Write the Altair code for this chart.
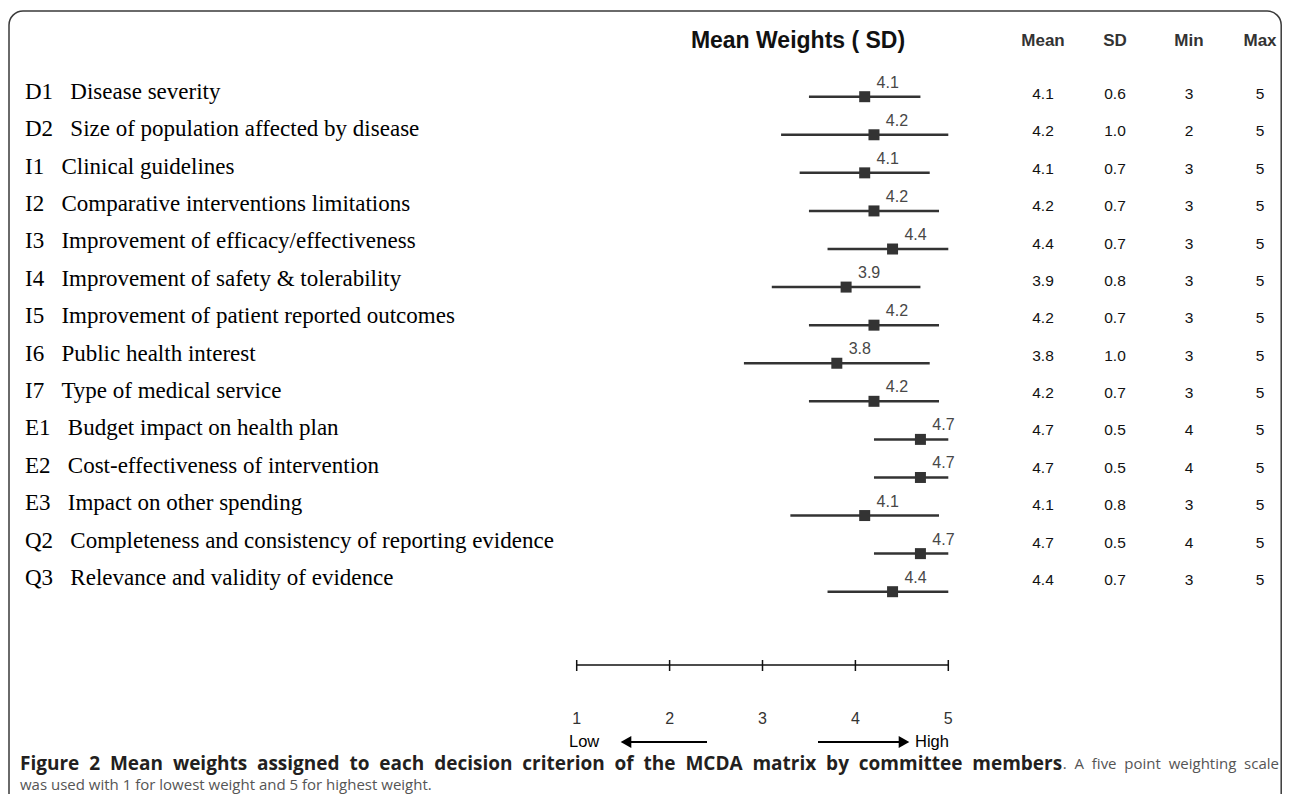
import altair as alt
import numpy as np
import pandas as pd

# ---------------- data ----------------
codes = ["D1", "D2", "I1", "I2", "I3", "I4", "I5", "I6", "I7", "E1", "E2", "E3", "Q2", "Q3"]
criteria = [
    "Disease severity",
    "Size of population affected by disease",
    "Clinical guidelines",
    "Comparative interventions limitations",
    "Improvement of efficacy/effectiveness",
    "Improvement of safety & tolerability",
    "Improvement of patient reported outcomes",
    "Public health interest",
    "Type of medical service",
    "Budget impact on health plan",
    "Cost-effectiveness of intervention",
    "Impact on other spending",
    "Completeness and consistency of reporting evidence",
    "Relevance and validity of evidence",
]
means = [4.1, 4.2, 4.1, 4.2, 4.4, 3.9, 4.2, 3.8, 4.2, 4.7, 4.7, 4.1, 4.7, 4.4]
sds = [0.6, 1.0, 0.7, 0.7, 0.7, 0.8, 0.7, 1.0, 0.7, 0.5, 0.5, 0.8, 0.5, 0.7]
mins = [3, 2, 3, 3, 3, 3, 3, 3, 3, 4, 4, 3, 4, 3]
maxs = [5, 5, 5, 5, 5, 5, 5, 5, 5, 5, 5, 5, 5, 5]
scale_ticks = [1, 2, 3, 4, 5]
table_headers = ["Mean", "SD", "Min", "Max"]
title_text = "Mean Weights ( SD)"
low_text = "Low"
high_text = "High"
caption_bold = ("Figure 2 Mean weights assigned to each decision criterion of the "
                "MCDA matrix by committee members")
caption_rest = ". A five point weighting scale"
caption_line2 = "was used with 1 for lowest weight and 5 for highest weight."

# ---------------- tables ----------------
df = pd.DataFrame({
    "code": codes,
    "criterion": criteria,
    "mean": means,
    "sd": sds,
    "min": mins,
    "max": maxs,
})
NB = "\u00a0"
df["label"] = df["code"] + NB * 3 + df["criterion"]
df["lo"] = df["mean"] - df["sd"]
df["hi"] = np.minimum(df["mean"] + df["sd"], df["max"])
df["Mean"] = df["mean"].map(lambda v: f"{v:.1f}")
df["SD"] = df["sd"].map(lambda v: f"{v:.1f}")
df["Min"] = df["min"].astype(str)
df["Max"] = df["max"].astype(str)

ticks_df = pd.DataFrame({"tick": scale_ticks})
one = pd.DataFrame({"k": [0]})

SANS = "Liberation Sans"
SERIF = "Liberation Serif"
CAP = "Open Sans"

xs = alt.Scale(domain=[1, 5], range=[568.7, 940.3])
ys_bar = alt.Scale(type="point", domain=codes, range=[88.7, 583.7], padding=0)
ys_lab = alt.Scale(type="point", domain=codes, range=[83.7, 570], padding=0)
ys_tab = alt.Scale(type="point", domain=codes, range=[86, 572], padding=0)

base = alt.Chart(df)

bars = base.mark_rule(color="#333333", strokeWidth=2.5).encode(
    x=alt.X("lo:Q", scale=xs, axis=None),
    x2="hi:Q",
    y=alt.Y("code:N", scale=ys_bar, axis=None),
)
markers = base.mark_point(shape="square", filled=True, size=121, color="#333333", opacity=1).encode(
    x=alt.X("mean:Q", scale=xs, axis=None),
    y=alt.Y("code:N", scale=ys_bar, axis=None),
)
mean_labels = base.mark_text(font=SANS, fontSize=16, color="#474747", dx=23, dy=-14).encode(
    x=alt.X("mean:Q", scale=xs, axis=None),
    y=alt.Y("code:N", scale=ys_bar, axis=None),
    text="Mean:N",
)
row_labels = base.mark_text(font=SERIF, fontSize=23, color="#000000", align="left").encode(
    x=alt.value(17),
    y=alt.Y("code:N", scale=ys_lab, axis=None),
    text="label:N",
)

layers = [bars, markers, mean_labels, row_labels]

HY = 33
col_x = [1035, 1107, 1181, 1252]
for name, cx in zip(table_headers, col_x):
    layers.append(
        base.mark_text(font=SANS, fontSize=15.5, color="#111111").encode(
            x=alt.value(cx),
            y=alt.Y("code:N", scale=ys_tab, axis=None),
            text=f"{name}:N",
        )
    )
    layers.append(
        alt.Chart(pd.DataFrame({"h": [name]})).mark_text(
            font=SANS, fontSize=17, fontWeight="bold", color="#333333"
        ).encode(x=alt.value(cx), y=alt.value(HY), text="h:N")
    )

title = alt.Chart(pd.DataFrame({"t": [title_text]})).mark_text(
    font=SANS, fontSize=23, fontWeight="bold", color="#111111"
).encode(x=alt.value(790), y=alt.value(HY), text="t:N")
layers.append(title)

# scale axis
axis_line = alt.Chart(ticks_df).mark_rule(color="#111111", strokeWidth=1.5).encode(
    x=alt.X("min(tick):Q", scale=xs, axis=None),
    x2="max(tick):Q",
    y=alt.value(657),
)
tick_marks = alt.Chart(ticks_df).mark_rule(color="#111111", strokeWidth=1.5).encode(
    x=alt.X("tick:Q", scale=xs, axis=None),
    y=alt.value(652),
    y2=alt.value(663),
)
tick_labels = alt.Chart(ticks_df).mark_text(font=SANS, fontSize=16, color="#333333").encode(
    x=alt.X("tick:Q", scale=xs, axis=None),
    y=alt.value(711),
    text="tick:Q",
)
layers += [axis_line, tick_marks, tick_labels]

# Low / High arrows
AY = 734
low_lbl = alt.Chart(pd.DataFrame({"t": [low_text]})).mark_text(
    font=SANS, fontSize=16.5, color="#000000", align="left"
).encode(x=alt.value(561), y=alt.value(AY), text="t:N")
high_lbl = alt.Chart(pd.DataFrame({"t": [high_text]})).mark_text(
    font=SANS, fontSize=16.5, color="#000000", align="left"
).encode(x=alt.value(907), y=alt.value(AY), text="t:N")
low_shaft = alt.Chart(one).mark_rule(color="#000000", strokeWidth=2).encode(
    x=alt.value(618), x2=alt.value(699), y=alt.value(AY)
)
low_head = alt.Chart(one).mark_point(shape="triangle-left", filled=True, size=150, color="#000000", opacity=1).encode(
    x=alt.value(618), y=alt.value(AY)
)
high_shaft = alt.Chart(one).mark_rule(color="#000000", strokeWidth=2).encode(
    x=alt.value(810), x2=alt.value(894), y=alt.value(AY)
)
high_head = alt.Chart(one).mark_point(shape="triangle-right", filled=True, size=150, color="#000000", opacity=1).encode(
    x=alt.value(896), y=alt.value(AY)
)
layers += [low_lbl, high_lbl, low_shaft, low_head, high_shaft, high_head]

# caption (justified look: slightly widened word gaps)
C1Y = 756
C2Y = 777
cap1 = alt.Chart(pd.DataFrame({"t": [caption_bold.replace(" ", NB * 2)]})).mark_text(
    font=CAP, fontSize=19, fontWeight="bold", color="#231f20", align="left"
).encode(x=alt.value(12), y=alt.value(C1Y), text="t:N")
cap1b = alt.Chart(pd.DataFrame({"t": [caption_rest.replace(" ", NB * 2)]})).mark_text(
    font=CAP, fontSize=15, color="#555555", align="right"
).encode(x=alt.value(1271), y=alt.value(C1Y), text="t:N")
cap2 = alt.Chart(pd.DataFrame({"t": [caption_line2]})).mark_text(
    font=CAP, fontSize=15, color="#555555", align="left"
).encode(x=alt.value(12), y=alt.value(C2Y), text="t:N")
layers += [cap1, cap1b, cap2]

# frame
frame = alt.Chart(one).mark_rect(
    filled=False, stroke="#3a3a3a", strokeWidth=1.5, cornerRadius=14
).encode(x=alt.value(1), x2=alt.value(1273.2), y=alt.value(3), y2=alt.value(800))
layers.append(frame)

chart = (
    alt.layer(*layers)
    .resolve_scale(y="independent")
    .properties(width=1274, height=786, autosize=alt.AutoSizeParams(type="none"), padding=0)
    .configure_view(stroke=None)
)

chart.save("out.html", embed_options={"renderer": "svg", "actions": False})
